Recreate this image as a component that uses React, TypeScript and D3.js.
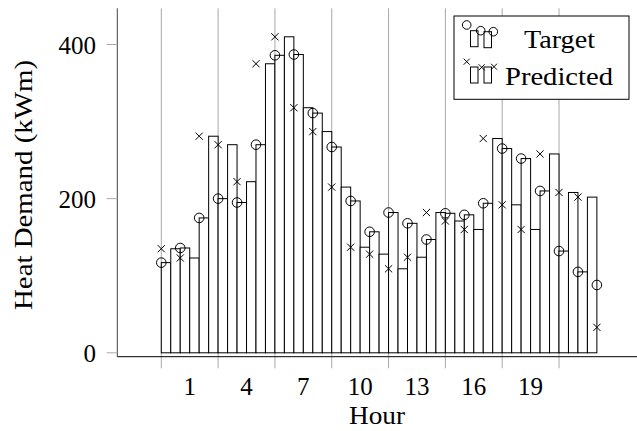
import React from 'react';
import * as d3 from 'd3';

const hours = [0, 1, 2, 3, 4, 5, 6, 7, 8, 9, 10, 11, 12, 13, 14, 15, 16, 17, 18, 19, 20, 21, 22, 23];
const target = [117, 136, 175, 200, 195, 270, 386, 387, 311, 267, 197, 157, 182, 168, 147, 181, 179, 194, 265, 252, 210, 132, 105, 88];
const predicted = [135, 123, 281, 270, 222, 375, 410, 318, 287, 215, 137, 128, 109, 124, 182, 171, 160, 278, 192, 160, 258, 208, 202, 33];
const gridHours = [0, 3, 6, 9, 12, 15, 18];
const gridHoursAll = [0, 3, 6, 9, 12, 15, 18, 21];
const xTickLabels = ['1', '4', '7', '10', '13', '16', '19'];
const yTicks = [0, 200, 400];
const seriesNames = ['Target', 'Predicted'];

const W = 637;
const H = 431;
const FONT = "'Liberation Serif', 'Times New Roman', serif";

const x = d3.scaleLinear().domain([0, 21]).range([161.3, 559]);
const y = d3.scaleLinear().domain([0, 400]).range([352.8, 44.5]);

const axLeft = 117.3;
const axRight = 640;
const axTop = 8.3;
const axBottom = 356.7;

function Cross({ cx, cy, s = 3.6 }: { cx: number; cy: number; s?: number }) {
  return (
    <g stroke="#000" strokeWidth={1}>
      <line x1={cx - s} y1={cy - s} x2={cx + s} y2={cy + s} />
      <line x1={cx - s} y1={cy + s} x2={cx + s} y2={cy - s} />
    </g>
  );
}

export default function App() {
  const barHours = hours.slice(0, hours.length - 1);
  return (
    <svg
      width={W}
      height={H}
      style={{ position: 'absolute', left: 0, top: 0, background: '#fff' }}
      fontFamily={FONT}
    >
      <rect x={0} y={0} width={W} height={H} fill="#fff" />
      {/* grid */}
      {gridHoursAll.map((h) => (
        <g key={'g' + h}>
          <line x1={x(h)} x2={x(h)} y1={axTop} y2={axBottom} stroke="#a8a8a8" strokeWidth={1} />
          <line x1={x(h)} x2={x(h)} y1={axBottom} y2={368.3} stroke="#a8a8a8" strokeWidth={1} />
        </g>
      ))}
      {/* bars */}
      {barHours.map((h, i) => (
        <g key={'b' + h} fill="#fff" stroke="#000" strokeWidth={1}>
          <rect x={x(h)} y={y(target[i])} width={x(h + 0.5) - x(h)} height={y(0) - y(target[i])} />
          <rect x={x(h + 0.5)} y={y(predicted[i])} width={x(h + 1) - x(h + 0.5)} height={y(0) - y(predicted[i])} />
        </g>
      ))}
      {/* markers */}
      {hours.map((h, i) => (
        <g key={'m' + h}>
          <circle cx={x(h)} cy={y(target[i])} r={4.8} fill="none" stroke="#000" strokeWidth={1} />
          <Cross cx={x(h)} cy={y(predicted[i])} />
        </g>
      ))}
      {/* axes */}
      <line x1={axLeft} x2={axLeft} y1={axTop} y2={axBottom} stroke="#444" strokeWidth={1} />
      <line x1={axLeft} x2={axRight} y1={axBottom} y2={axBottom} stroke="#000" strokeWidth={1} />
      {yTicks.map((t) => (
        <g key={'yt' + t}>
          <line x1={106.7} x2={axLeft} y1={y(t)} y2={y(t)} stroke="#a8a8a8" strokeWidth={1} />
          <text x={96} y={y(t) + 9} textAnchor="end" fontSize={25} fill="#000">
            {t}
          </text>
        </g>
      ))}
      {gridHours.map((h, i) => (
        <text key={'xt' + h} x={x(h + 1.5)} y={395} textAnchor="middle" fontSize={25} fill="#000">
          {xTickLabels[i]}
        </text>
      ))}
      <text x={377} y={424} textAnchor="middle" fontSize={25} fill="#000" textLength={56} lengthAdjust="spacingAndGlyphs">
        Hour
      </text>
      <text
        transform={`translate(31.7,185) rotate(-90)`}
        textAnchor="middle"
        fontSize={25}
        fill="#000"
        textLength={250}
        lengthAdjust="spacingAndGlyphs"
      >
        Heat Demand (kWm)
      </text>
      {/* legend */}
      <rect x={454} y={16} width={175} height={83.3} fill="#fff" stroke="#000" strokeWidth={1} />
      <g fill="#fff" stroke="#000" strokeWidth={1}>
        <rect x={470.5} y={30.7} width={7.5} height={16} />
        <rect x={484} y={31.7} width={7.5} height={16} />
        <rect x={470.5} y={67} width={7.5} height={16} />
        <rect x={484} y={67} width={7.5} height={16} />
      </g>
      <circle cx={466.7} cy={25} r={4.3} fill="none" stroke="#000" />
      <circle cx={480.7} cy={30.7} r={4.3} fill="none" stroke="#000" />
      <circle cx={493.3} cy={31.7} r={4.3} fill="none" stroke="#000" />
      <Cross cx={466.7} cy={61.7} s={3} />
      <Cross cx={481.7} cy={67.3} s={3} />
      <Cross cx={494} cy={66.7} s={3} />
      <text x={559.5} y={48.3} textAnchor="middle" fontSize={25} fill="#000" textLength={71} lengthAdjust="spacingAndGlyphs">
        {seriesNames[0]}
      </text>
      <text x={559} y={85} textAnchor="middle" fontSize={25} fill="#000" textLength={108} lengthAdjust="spacingAndGlyphs">
        {seriesNames[1]}
      </text>
    </svg>
  );
}
